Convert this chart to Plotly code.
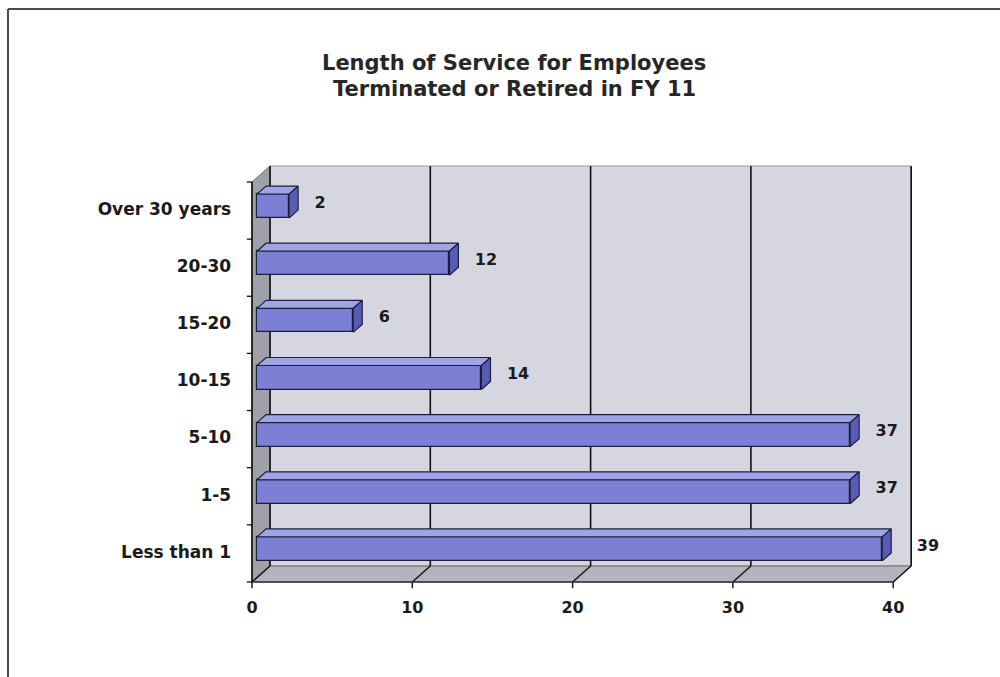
import plotly.graph_objects as go

# ---- data ----
categories = ["Less than 1", "1-5", "5-10", "10-15", "15-20", "20-30", "Over 30 years"]
employees = [39, 37, 37, 14, 6, 12, 2]
x_ticks = [0, 10, 20, 30, 40]
title_lines = ["Length of Service for Employees", "Terminated or Retired in FY 11"]

# ---- 3-D look parameters (data units) ----
X_MAX = 40
N = len(categories)
DX, DY = 1.123, 0.28          # depth offset of the back wall
F0, F1 = 0.28, 0.78           # bar depth, as fractions of the full depth
BAR_H = 0.42
Y_LO, Y_HI = -0.5, N - 0.5
LABEL_GAP = 1.9               # gap between bar end and its value label
LABEL_W = 1.6                 # approximate width of a two-digit label

FONT = "DejaVu Sans"
WALL_BACK = "#d6d6e0"
WALL_SIDE = "#a0a0aa"
FLOOR = "#b4b4be"
BAR_FRONT = "#7b80d4"
BAR_TOP = "#a0a4e6"
BAR_SIDE = "#575cb8"
EDGE = "#1e1e3a"

fig = go.Figure()
shapes = []


def poly(pts):
    return "M " + " L ".join(f"{x},{y}" for x, y in pts) + " Z"


# walls and floor (drawn beneath the bars)
shapes.append(dict(type="path", xref="x", yref="y", layer="below",
                   path=poly([(DX, Y_LO + DY), (X_MAX + DX, Y_LO + DY),
                              (X_MAX + DX, Y_HI + DY), (DX, Y_HI + DY)]),
                   fillcolor=WALL_BACK, line=dict(color="#9a9aa6", width=1)))
shapes.append(dict(type="path", xref="x", yref="y", layer="below",
                   path=poly([(0, Y_LO), (DX, Y_LO + DY), (DX, Y_HI + DY), (0, Y_HI)]),
                   fillcolor=WALL_SIDE, line=dict(color="#6a6a74", width=1)))
shapes.append(dict(type="path", xref="x", yref="y", layer="below",
                   path=poly([(0, Y_LO), (X_MAX, Y_LO), (X_MAX + DX, Y_LO + DY), (DX, Y_LO + DY)]),
                   fillcolor=FLOOR, line=dict(color="#6a6a74", width=1)))

# gridlines on the back wall and floor, plus wall edges
for t in x_ticks:
    shapes.append(dict(type="line", xref="x", yref="y", layer="below",
                       x0=t + DX, y0=Y_LO + DY, x1=t + DX, y1=Y_HI + DY,
                       line=dict(color="#111111", width=1.6)))
    shapes.append(dict(type="line", xref="x", yref="y", layer="below",
                       x0=t, y0=Y_LO, x1=t + DX, y1=Y_LO + DY,
                       line=dict(color="#111111", width=1.4)))
    # tick mark below the front edge
    shapes.append(dict(type="line", xref="x", yref="y", layer="below",
                       x0=t, y0=Y_LO, x1=t, y1=Y_LO - 0.11,
                       line=dict(color="#111111", width=1.4)))

# value axis (front edge) and category axis
shapes.append(dict(type="line", xref="x", yref="y", layer="below",
                   x0=0, y0=Y_LO, x1=X_MAX, y1=Y_LO,
                   line=dict(color="#333333", width=1.4)))
shapes.append(dict(type="line", xref="x", yref="y", layer="below",
                   x0=0, y0=Y_LO, x1=0, y1=Y_HI,
                   line=dict(color="#111111", width=1.6)))
for k in range(N + 1):
    yk = Y_LO + k
    shapes.append(dict(type="line", xref="x", yref="y", layer="below",
                       x0=0, y0=yk, x1=-0.32, y1=yk,
                       line=dict(color="#111111", width=1.3)))

# frame around the chart area
shapes.append(dict(type="line", xref="paper", yref="paper",
                   x0=8 / 1000, y0=1 - 9 / 677, x1=1, y1=1 - 9 / 677,
                   line=dict(color="#4a4a55", width=2)))
shapes.append(dict(type="line", xref="paper", yref="paper",
                   x0=8 / 1000, y0=1 - 9 / 677, x1=8 / 1000, y1=0,
                   line=dict(color="#4a4a55", width=2)))

# ---- bars ----
ys = list(range(N))
fx, fy = F0 * DX, F0 * DY
bx, by = F1 * DX, F1 * DY

fig.add_trace(go.Bar(
    y=[i + fy for i in ys], x=employees, base=fx, orientation="h",
    width=BAR_H, marker=dict(color=BAR_FRONT, line=dict(color=EDGE, width=1.2)),
    hoverinfo="skip", showlegend=False))

top_x, top_y, side_x, side_y = [], [], [], []
for i, v in zip(ys, employees):
    hi_f, hi_b = i + fy + BAR_H / 2, i + by + BAR_H / 2
    lo_f, lo_b = i + fy - BAR_H / 2, i + by - BAR_H / 2
    top_x += [fx, v + fx, v + bx, bx, fx, None]
    top_y += [hi_f, hi_f, hi_b, hi_b, hi_f, None]
    side_x += [v + fx, v + bx, v + bx, v + fx, v + fx, None]
    side_y += [lo_f, lo_b, hi_b, hi_f, lo_f, None]

fig.add_trace(go.Scatter(x=top_x, y=top_y, mode="lines", fill="toself",
                         fillcolor=BAR_TOP, line=dict(color=EDGE, width=1.2),
                         hoverinfo="skip", showlegend=False))
fig.add_trace(go.Scatter(x=side_x, y=side_y, mode="lines", fill="toself",
                         fillcolor=BAR_SIDE, line=dict(color=EDGE, width=1.2),
                         hoverinfo="skip", showlegend=False))


# value labels: keep them clear of the right-hand wall edge
def label_x(v):
    x = v + LABEL_GAP
    wall = X_MAX + DX
    if x < wall < x + LABEL_W:
        x = wall + 0.35
    return x


fig.add_trace(go.Scatter(
    x=[label_x(v) for v in employees], y=[i + 0.12 for i in ys],
    mode="text", text=[str(v) for v in employees], textposition="middle right",
    textfont=dict(family=FONT, size=16, color="#1a1a1a", weight="bold"),
    hoverinfo="skip", showlegend=False))

# category labels
fig.add_trace(go.Scatter(
    x=[-1.3] * N, y=ys, mode="text", text=categories, textposition="middle left",
    textfont=dict(family=FONT, size=17, color="#1a1a1a", weight="bold"),
    hoverinfo="skip", showlegend=False))

# value-axis tick labels
fig.add_trace(go.Scatter(
    x=x_ticks, y=[Y_LO - 0.47] * len(x_ticks), mode="text",
    text=[str(t) for t in x_ticks], textposition="middle center",
    textfont=dict(family=FONT, size=16, color="#1a1a1a", weight="bold"),
    hoverinfo="skip", showlegend=False))

annotations = []
for line, ypx in zip(title_lines, [63, 89]):
    annotations.append(dict(text=f"<b>{line}</b>", xref="paper", yref="paper",
                            x=0.514, y=1 - ypx / 677, xanchor="center", yanchor="middle",
                            showarrow=False,
                            font=dict(family=FONT, size=21, color="#262626")))

fig.update_layout(
    width=1000, height=677,
    margin=dict(l=0, r=0, t=0, b=0),
    paper_bgcolor="white", plot_bgcolor="white",
    xaxis=dict(range=[-252 / 16.03, 748 / 16.03], visible=False, fixedrange=True),
    yaxis=dict(range=[(553.4 - 677) / 57.14, 553.4 / 57.14], visible=False, fixedrange=True),
    shapes=shapes, annotations=annotations,
    bargap=0, showlegend=False,
)

fig.write_html("out.html")
